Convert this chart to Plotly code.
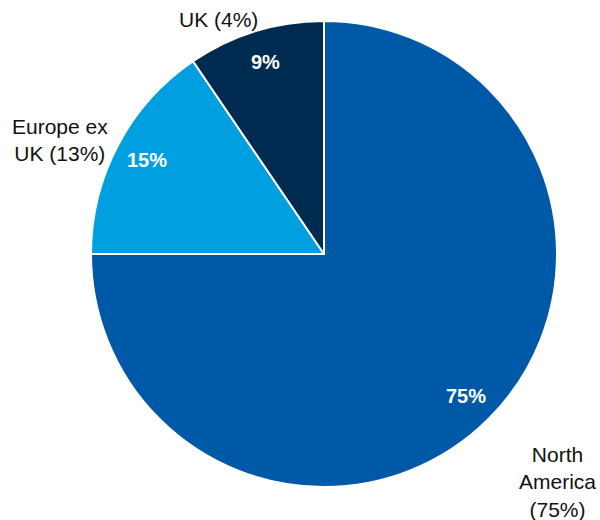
import math
import plotly.graph_objects as go

# Data
regions = ["North America", "Europe ex UK", "UK"]
slice_values = [75, 15.5, 9.5]          # slice sizes as drawn
inside_labels = ["75%", "15%", "9%"]
outside_labels = ["North<br>America<br>(75%)", "Europe ex<br>UK (13%)", "UK (4%)"]
colors = ["#0059A6", "#009FDF", "#002B50"]

W, H = 600, 520
CX, CY, R = 324, 254, 233

fig = go.Figure(go.Pie(
    labels=regions,
    values=slice_values,
    sort=False,
    direction="clockwise",
    rotation=0,
    marker=dict(colors=colors, line=dict(color="white", width=2)),
    textinfo="none",
    hoverinfo="label",
    showlegend=False,
    domain=dict(x=[(CX - R) / W, (CX + R) / W], y=[1 - (CY + R) / H, 1 - (CY - R) / H]),
))

annotations = []
total = sum(slice_values)
cum = 0.0
for v, t in zip(slice_values, inside_labels):
    mid = (cum + v / 2) / total * 2 * math.pi
    cum += v
    r = 0.86 * R
    px = CX + r * math.sin(mid)
    py = CY - r * math.cos(mid)
    annotations.append(dict(x=px / W, y=1 - py / H, xref="paper", yref="paper",
                            text="<b>" + t + "</b>", showarrow=False,
                            xanchor="center", yanchor="middle",
                            font=dict(family="Liberation Sans, Arial", size=20, color="white")))

outside_pos = [(557, 482), (60, 140), (218, 20)]
for (px, py), t in zip(outside_pos, outside_labels):
    annotations.append(dict(x=px / W, y=1 - py / H, xref="paper", yref="paper",
                            text=t, showarrow=False, xanchor="center", yanchor="middle",
                            font=dict(family="Liberation Sans, Arial", size=21, color="#111111")))

fig.update_layout(
    width=W, height=H,
    margin=dict(l=0, r=0, t=0, b=0),
    paper_bgcolor="white", plot_bgcolor="white",
    annotations=annotations,
)

fig.write_html("out.html")
